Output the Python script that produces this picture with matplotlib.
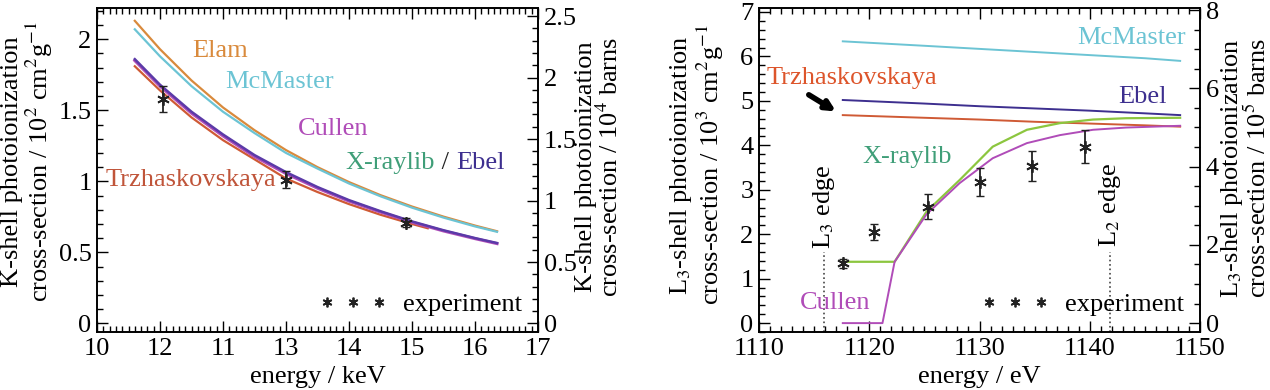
import matplotlib
matplotlib.use('Agg')
import matplotlib.pyplot as plt
from matplotlib.lines import Line2D
from matplotlib.ticker import MultipleLocator, FixedLocator, FixedFormatter, FormatStrFormatter

plt.rcParams['font.family'] = ['Liberation Serif', 'DejaVu Serif']
plt.rcParams['mathtext.fontset'] = 'stix'
plt.rcParams['font.size'] = 19

# ---- K-shell panel (keV) ----
k_energy = [10.6, 11.0, 11.5, 12.0, 12.5, 13.0, 13.5, 14.0, 14.5, 15.0, 15.5, 16.0, 16.35]
k_elam = [2.13, 1.93, 1.71, 1.52, 1.36, 1.22, 1.10, 0.995, 0.903, 0.823, 0.752, 0.689, 0.649]
k_mcmaster = [2.07, 1.88, 1.67, 1.49, 1.34, 1.20, 1.09, 0.985, 0.895, 0.815, 0.745, 0.683, 0.645]
k_ebel = [1.86, 1.68, 1.49, 1.33, 1.185, 1.065, 0.96, 0.868, 0.79, 0.718, 0.656, 0.601, 0.566]
k_cullen = [1.85, 1.67, 1.48, 1.32, 1.175, 1.055, 0.952, 0.861, 0.784, 0.713, 0.651, 0.597, 0.562]
k_trz_energy = [10.6, 11.0, 11.5, 12.0, 12.5, 13.0, 13.5, 14.0, 14.5, 15.0, 15.25]
k_trz = [1.81, 1.64, 1.45, 1.29, 1.155, 1.02, 0.925, 0.84, 0.765, 0.70, 0.67]
k_exp_x = [11.05, 13.0, 14.9]
k_exp_y = [1.58, 1.01, 0.71]
k_exp_err = [0.09, 0.06, 0.03]
k_ticks = [10, 11, 12, 13, 14, 15, 16, 17]
k_tick_labels = ['10', '12', '11', '13', '14', '15', '16', '17']

# ---- L3-shell panel (eV) ----
l_energy = [1117.6, 1125, 1130, 1135, 1140, 1145, 1148.2]
l_mcmaster = [6.34, 6.24, 6.17, 6.10, 6.03, 5.96, 5.90]
l_ebel = [5.02, 4.94, 4.88, 4.83, 4.78, 4.72, 4.68]
l_trz = [4.68, 4.62, 4.58, 4.53, 4.49, 4.45, 4.42]
l_xray_e = [1117.6, 1122.3, 1125.2, 1128.2, 1131.2, 1134.3, 1137.3, 1140.3, 1143.3, 1148.2]
l_xray = [1.38, 1.38, 2.51, 3.22, 3.97, 4.35, 4.50, 4.58, 4.61, 4.62]
l_cullen_e = [1117.6, 1121.2, 1122.3, 1125.2, 1128.2, 1131.2, 1134.3, 1137.3, 1140.3, 1143.3, 1148.2]
l_cullen = [0.0, 0.0, 1.38, 2.45, 3.15, 3.71, 4.05, 4.23, 4.35, 4.40, 4.44]
l_exp_x = [1117.6, 1120.4, 1125.3, 1130.0, 1134.8, 1139.6]
l_exp_y = [1.35, 2.05, 2.62, 3.17, 3.54, 3.97]
l_exp_err = [0.1, 0.18, 0.28, 0.32, 0.34, 0.37]
l3_edge = 1115.9
l2_edge = 1141.8

c_elam = '#d98a3c'
c_mcm = '#6cc4d4'
c_cullen = '#b04cb8'
c_ebel = '#3d2f8f'
c_ebel_k = '#5b3aa8'
c_xray_txt = '#3f9e78'
c_xray = '#8cc63f'
c_trz = '#cf5a35'

fig = plt.figure(figsize=(12.7, 3.9), dpi=100)
ax1 = fig.add_axes([97 / 1270, 1 - 332 / 390, 441 / 1270, 324 / 390])
ax2 = fig.add_axes([759 / 1270, 1 - 332 / 390, 441 / 1270, 324 / 390])

star = (6, 2, 0)
plain = FormatStrFormatter('%g')


def ticks(ax, which_axis, major, minor):
    axis = ax.xaxis if which_axis == 'x' else ax.yaxis
    axis.set_major_locator(MultipleLocator(major))
    axis.set_minor_locator(MultipleLocator(minor))
    axis.set_major_formatter(FormatStrFormatter('%g'))


def tick_style(ax):
    ax.tick_params(which='both', direction='in', width=1.0)
    ax.tick_params(which='major', length=8, pad=4)
    ax.tick_params(which='minor', length=4)
    for s in ax.spines.values():
        s.set_linewidth(1.2)


# left panel
ax1.plot(k_energy, k_elam, color=c_elam, lw=1.6)
ax1.plot(k_energy, k_mcmaster, color=c_mcm, lw=1.6)
ax1.plot(k_trz_energy, k_trz, color=c_trz, lw=1.6)
ax1.plot(k_energy, k_cullen, color=c_cullen, lw=2.2)
ax1.plot(k_energy, k_ebel, color=c_ebel_k, lw=1.8)
ax1.errorbar(k_exp_x, k_exp_y, yerr=k_exp_err, fmt='none', ecolor='#222', elinewidth=1.3, capsize=3)
ax1.plot(k_exp_x, k_exp_y, ls='none', marker=star, ms=9, mec='#222', mew=1.3)
ax1.set_xlim(10, 17)
ax1.set_ylim(-0.06, 2.22)

ax1.text(11.95, 1.92, 'Elam', color=c_elam, ha='center', va='center')
ax1.text(12.9, 1.70, 'McMaster', color=c_mcm, ha='center', va='center')
ax1.text(13.75, 1.37, 'Cullen', color=c_cullen, ha='center', va='center')
ax1.text(11.49, 1.01, 'Trzhaskovskaya', color='#c0553a', ha='center', va='center')
t = ax1.text(13.94, 1.13, 'X-raylib', color=c_xray_txt, ha='left', va='center')
ax1.annotate(' / ', xycoords=t, xy=(1, 0.5), va='center', ha='left', color='#222')
ax1.text(15.7, 1.13, 'Ebel', color=c_ebel, ha='left', va='center')

k_right = ax1.twinx()
k_right.set_ylim(-0.06 * 1.156, 2.22 * 1.156)
ticks(k_right, 'y', 0.5, 0.1)
tick_style(k_right)

proxy = Line2D([], [], ls='none', marker=star, ms=7, mec='#222', mew=1.3)
ax1.legend([proxy], ['experiment'], numpoints=3, handlelength=2.6, frameon=False,
           loc='lower right', borderaxespad=0.2, handletextpad=0.6, fontsize=19)

# x ticks are labelled as printed in the source figure
ax1.xaxis.set_major_locator(FixedLocator(k_ticks))
ax1.xaxis.set_major_formatter(FixedFormatter(k_tick_labels))
ax1.xaxis.set_minor_locator(MultipleLocator(0.1))
ticks(ax1, 'y', 0.5, 0.1)
ax1.tick_params(which='both', top=True)
tick_style(ax1)

# right panel
ax2.plot(l_energy, l_mcmaster, color=c_mcm, lw=1.4)
ax2.plot(l_energy, l_ebel, color=c_ebel, lw=1.4)
ax2.plot(l_energy, l_trz, color=c_trz, lw=1.4)
ax2.plot(l_xray_e, l_xray, color=c_xray, lw=1.6)
ax2.plot(l_cullen_e, l_cullen, color=c_cullen, lw=1.4)
ax2.errorbar(l_exp_x, l_exp_y, yerr=l_exp_err, fmt='none', ecolor='#222', elinewidth=1.3, capsize=3)
ax2.plot(l_exp_x, l_exp_y, ls='none', marker=star, ms=9, mec='#222', mew=1.3)
ax2.vlines([l3_edge, l2_edge], -0.2, 1.6, colors='#444', linestyles=':', lw=1.2)
ax2.set_xlim(1110, 1150)
ax2.set_ylim(-0.2, 7.09)

ax2.text(1143.8, 6.42, 'McMaster', color=c_mcm, ha='center', va='center')
ax2.text(1144.8, 5.09, 'Ebel', color=c_ebel, ha='center', va='center')
ax2.text(1118.4, 5.52, 'Trzhaskovskaya', color='#dd552b', ha='center', va='center')
ax2.text(1123.4, 3.74, 'X-raylib', color=c_xray_txt, ha='center', va='center')
ax2.text(1116.9, 0.45, 'Cullen', color=c_cullen, ha='center', va='center')
ax2.text(l3_edge, 2.62, 'L$_3$ edge', rotation=90, ha='center', va='center')
ax2.text(l2_edge, 2.67, 'L$_2$ edge', rotation=90, ha='center', va='center')
ax2.annotate('', xy=(1117.2, 4.73), xytext=(1114.3, 5.17),
             arrowprops=dict(arrowstyle='-|>', lw=4, color='k', mutation_scale=14))

l_right = ax2.twinx()
l_right.set_ylim(-0.2 * 1.136, 7.09 * 1.136)
ticks(l_right, 'y', 2, 0.5)
tick_style(l_right)

proxy2 = Line2D([], [], ls='none', marker=star, ms=7, mec='#222', mew=1.3)
ax2.legend([proxy2], ['experiment'], numpoints=3, handlelength=2.6, frameon=False,
           loc='lower right', borderaxespad=0.2, handletextpad=0.6, fontsize=19)

ticks(ax2, 'x', 10, 1)
ticks(ax2, 'y', 1, 0.2)
ax2.tick_params(which='both', top=True)
tick_style(ax2)

# axis titles
lab = dict(rotation=90, ha='center', va='center', multialignment='center', linespacing=1.0)
fig.text(28 / 1270, 1 - 162 / 390, 'K-shell photoionization\ncross-section / 10$^2$ cm$^2$g$^{-1}$', **lab)
fig.text(599 / 1270, 1 - 167 / 390, 'K-shell photoionization\ncross-section / 10$^4$ barns', **lab)
fig.text(697 / 1270, 1 - 165 / 390, 'L$_3$-shell photoionization\ncross-section / 10$^3$ cm$^2$g$^{-1}$', **lab)
fig.text(1245 / 1270, 1 - 168 / 390, 'L$_3$-shell photoionization\ncross-section / 10$^5$ barns', **lab)
fig.text(318 / 1270, 1 - 377 / 390, 'energy / keV', ha='center', va='center')
fig.text(979 / 1270, 1 - 377 / 390, 'energy / eV', ha='center', va='center')

fig.savefig('out.png', dpi=100)
